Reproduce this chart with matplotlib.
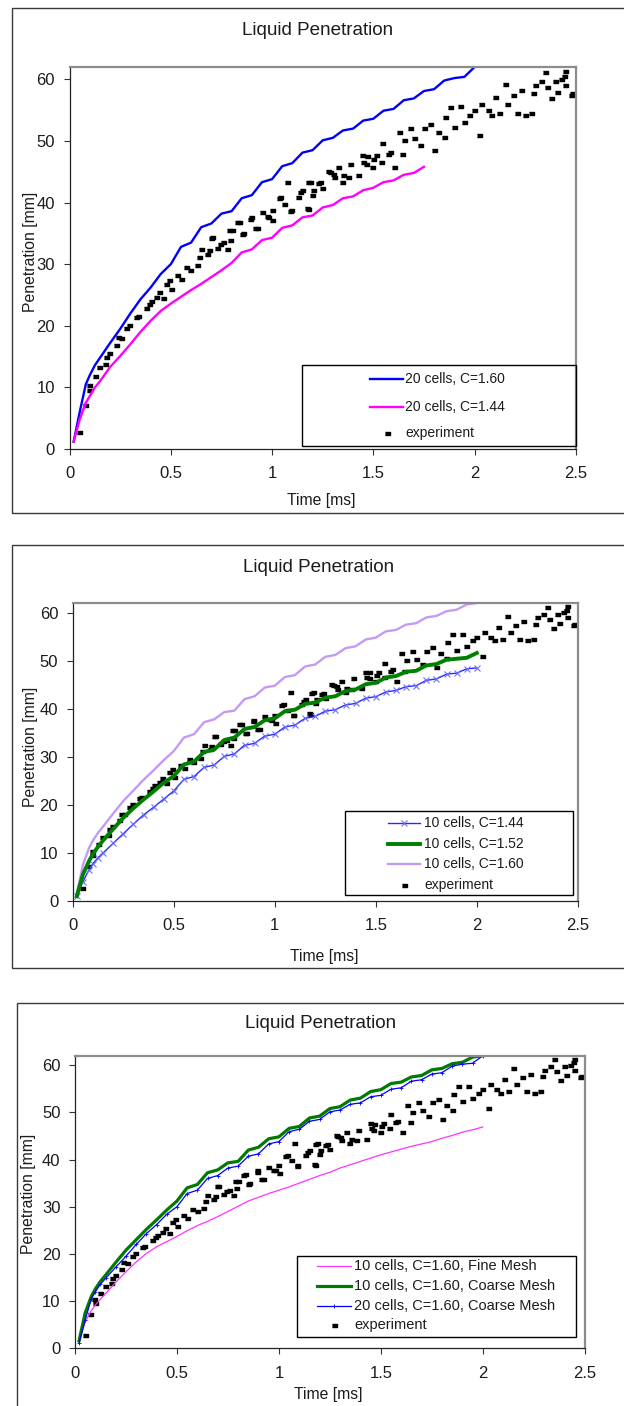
import matplotlib
matplotlib.use("Agg")
import matplotlib.pyplot as plt
from matplotlib.patches import Rectangle
from matplotlib.lines import Line2D

plt.rcParams['font.family'] = ['Liberation Sans', 'DejaVu Sans']

# measured spray tip penetration (time [ms], penetration [mm])
exp_t = [0.048, 0.076, 0.094, 0.097, 0.125, 0.147, 0.176, 0.180, 0.196, 0.228,
         0.237, 0.254, 0.279, 0.295, 0.328, 0.340, 0.377, 0.390, 0.402, 0.427,
         0.443, 0.459, 0.476, 0.491, 0.500, 0.531, 0.550, 0.575, 0.596, 0.629,
         0.639, 0.649, 0.678, 0.686, 0.698, 0.702, 0.727, 0.743, 0.757, 0.776,
         0.786, 0.792, 0.800, 0.825, 0.835, 0.850, 0.855, 0.891, 0.894, 0.914,
         0.924, 0.949, 0.973, 0.982, 0.998, 1.002, 1.032, 1.039, 1.061, 1.075,
         1.088, 1.091, 1.130, 1.138, 1.150, 1.170, 1.175, 1.179, 1.189, 1.199,
         1.204, 1.228, 1.237, 1.248, 1.278, 1.287, 1.302, 1.307, 1.327, 1.346,
         1.352, 1.376, 1.386, 1.425, 1.445, 1.450, 1.464, 1.467, 1.494, 1.500,
         1.513, 1.539, 1.543, 1.572, 1.580, 1.602, 1.627, 1.641, 1.651, 1.680,
         1.700, 1.730, 1.749, 1.779, 1.798, 1.818, 1.847, 1.853, 1.877, 1.897,
         1.926, 1.946, 1.975, 1.995, 2.024, 2.034, 2.064, 2.083, 2.103, 2.123,
         2.148, 2.162, 2.191, 2.211, 2.231, 2.250, 2.280, 2.290, 2.300, 2.329,
         2.349, 2.358, 2.378, 2.398, 2.408, 2.428, 2.443, 2.447, 2.447, 2.477,
         2.482]
exp_y = [2.8, 7.2, 10.4, 9.5, 11.8, 13.3, 13.8, 14.9, 15.6, 16.8,
         18.2, 18.0, 19.6, 20.2, 21.4, 21.6, 22.9, 23.5, 24.1, 24.7,
         25.5, 24.5, 26.8, 27.4, 25.9, 28.2, 27.6, 29.5, 29.0, 29.8,
         31.2, 32.5, 31.7, 32.3, 34.3, 34.4, 32.6, 33.3, 33.6, 32.5,
         35.5, 33.9, 35.5, 36.8, 36.9, 34.9, 35.0, 37.4, 37.7, 35.8,
         35.8, 38.5, 37.8, 37.7, 38.8, 37.1, 40.7, 40.9, 39.8, 43.4,
         38.7, 38.8, 40.9, 41.7, 42.0, 39.1, 38.9, 43.3, 43.4, 41.2,
         42.0, 43.1, 43.3, 42.3, 45.2, 45.0, 44.7, 44.2, 45.8, 43.4,
         44.4, 44.2, 46.3, 44.4, 47.7, 46.6, 46.3, 47.6, 45.8, 47.1,
         47.7, 46.6, 49.6, 47.9, 48.2, 45.8, 51.5, 47.9, 50.1, 52.1,
         50.4, 49.3, 52.1, 52.8, 48.6, 51.5, 50.6, 53.9, 55.5, 52.3,
         55.6, 53.1, 54.2, 55.0, 50.9, 56.0, 55.0, 54.2, 57.1, 54.5,
         59.3, 56.0, 57.4, 54.5, 58.2, 54.2, 54.5, 57.7, 59.0, 59.8,
         61.2, 58.7, 56.9, 59.8, 57.9, 60.1, 60.6, 59.0, 61.4, 57.4,
         57.7]

# simulation output times [ms]
t_sim = [0.02, 0.05, 0.08, 0.10, 0.125, 0.15, 0.20, 0.25, 0.30, 0.35,
         0.40, 0.45, 0.50, 0.55, 0.60, 0.65, 0.70, 0.75, 0.80, 0.85,
         0.90, 0.95, 1.00, 1.05, 1.10, 1.15, 1.20, 1.25, 1.30, 1.35,
         1.40, 1.45, 1.50, 1.55, 1.60, 1.65, 1.70, 1.75, 1.80, 1.85,
         1.90, 1.95, 2.00]

pen_20c_160 = [1.2, 6.0, 10.5, 12.0, 13.6, 14.8, 17.2, 19.5, 22.0, 24.3,
               26.2, 28.4, 30.0, 32.8, 33.5, 36.0, 36.6, 38.2, 38.6, 40.7,
               41.2, 43.3, 43.8, 45.9, 46.4, 48.1, 48.5, 50.1, 50.5, 51.7,
               52.0, 53.3, 53.6, 54.9, 55.2, 56.6, 56.9, 58.1, 58.4, 59.8,
               60.2, 60.4, 62.0]
pen_20c_144 = [1.2, 4.8, 7.5, 8.6, 10.0, 11.0, 13.3, 15.1, 17.0, 19.0,
               20.8, 22.4, 23.6, 24.7, 25.8, 26.8, 27.9, 29.0, 30.2, 31.9,
               32.4, 33.9, 34.3, 35.9, 36.3, 37.6, 37.9, 39.2, 39.6, 40.7,
               41.0, 42.0, 42.4, 43.3, 43.6, 44.5, 44.8, 45.8]
pen_10c_144 = [1.0, 4.0, 6.5, 7.8, 9.0, 10.0, 12.0, 14.0, 16.0, 17.9,
               19.5, 21.2, 22.9, 25.3, 25.9, 27.8, 28.3, 30.1, 30.6, 32.4,
               32.8, 34.3, 34.7, 36.2, 36.6, 38.0, 38.4, 39.5, 39.8, 40.8,
               41.1, 42.2, 42.5, 43.5, 43.8, 44.6, 44.8, 45.9, 46.2, 47.2,
               47.4, 48.3, 48.5]
pen_10c_152 = [1.0, 5.5, 8.3, 9.8, 11.3, 12.6, 15.0, 17.3, 19.3, 21.1,
               22.8, 24.6, 26.0, 28.4, 29.0, 31.0, 31.5, 33.5, 34.0, 35.8,
               36.2, 37.6, 38.0, 39.5, 39.8, 41.0, 41.3, 42.3, 42.6, 43.7,
               44.0, 45.1, 45.4, 46.5, 46.8, 47.7, 47.9, 49.0, 49.3, 50.2,
               50.4, 50.6, 51.6]
pen_10c_160 = [1.6, 7.5, 11.0, 12.6, 14.2, 15.5, 18.2, 20.8, 23.0, 25.2,
               27.2, 29.3, 31.2, 34.0, 34.7, 37.2, 37.8, 39.3, 39.6, 42.0,
               42.6, 44.4, 44.8, 46.6, 47.0, 48.8, 49.2, 50.8, 51.2, 52.6,
               53.0, 54.4, 54.8, 56.1, 56.4, 57.5, 57.8, 59.0, 59.3, 60.3,
               60.6, 61.7, 62.0]
pen_10c_160_fine = [1.4, 5.6, 8.0, 9.2, 10.4, 11.6, 14.0, 16.2, 18.3, 20.1,
                    21.5, 22.6, 23.7, 24.9, 26.0, 26.9, 27.9, 29.0, 30.1, 31.2,
                    32.0, 32.8, 33.5, 34.2, 35.0, 35.8, 36.6, 37.3, 38.2, 38.9,
                    39.6, 40.3, 41.0, 41.6, 42.2, 42.8, 43.3, 43.8, 44.5, 45.1,
                    45.8, 46.3, 46.9]

x_ticks = [0, 0.5, 1, 1.5, 2, 2.5]
x_ticklabels = ['0', '0.5', '1', '1.5', '2', '2.5']
y_ticks = [0, 10, 20, 30, 40, 50, 60]

W, H = 624, 1406
TXT = '#1c1c1c'
fig = plt.figure(figsize=(W / 100, H / 100), dpi=100)

# small wide rectangle, like the spreadsheet marker
EXP_MARK = [(-1, -0.6), (1, -0.6), (1, 0.6), (-1, 0.6)]
exp_style = dict(ls='none', marker=EXP_MARK, ms=3.6, color='black', mec='black')


def fx(x):
    return x / W


def fy(y):
    return 1 - y / H


def make_axes(left, top, right, bottom):
    ax = fig.add_axes([fx(left), fy(bottom), (right - left) / W, (bottom - top) / H])
    ax.set_xlim(0, 2.5)
    ax.set_ylim(0, 62)
    ax.set_xticks(x_ticks)
    ax.set_xticklabels(x_ticklabels)
    ax.set_yticks(y_ticks)
    ax.tick_params(direction='out', length=4.5, width=0.8, color='#333333',
                   labelsize=12, labelcolor=TXT)
    ax.tick_params(axis='x', pad=8)
    ax.tick_params(axis='y', pad=6)
    for s in ('left', 'bottom'):
        ax.spines[s].set_color('#222222')
        ax.spines[s].set_linewidth(0.9)
    for s in ('top', 'right'):
        ax.spines[s].set_color('#8c8c8c')
        ax.spines[s].set_linewidth(1.6)
    return ax


def panel_frame(left, top, bottom):
    fig.add_artist(Rectangle((fx(left), fy(bottom)), fx(640 - left), (bottom - top) / H,
                             transform=fig.transFigure, fill=False, ec='#3a3a3a', lw=1.0))


def labels(title_xy, xlab_xy, ylab_xy):
    fig.text(fx(title_xy[0]), fy(title_xy[1]), 'Liquid Penetration', ha='center', va='center',
             fontsize=13.6, color=TXT)
    fig.text(fx(xlab_xy[0]), fy(xlab_xy[1]), 'Time [ms]', ha='center', va='center',
             fontsize=11.3, color=TXT)
    fig.text(fx(ylab_xy[0]), fy(ylab_xy[1]), 'Penetration [mm]', ha='center', va='center',
             rotation=90, fontsize=11.3, color=TXT)


def legend(entries, box, hx, tx, rows, fs):
    l, t, r, b = box
    fig.add_artist(Rectangle((fx(l), fy(b)), (r - l) / W, (b - t) / H,
                             transform=fig.transFigure, fill=False, ec='black', lw=1.0))
    for (label, style), y in zip(entries, rows):
        if style is exp_style:
            fig.add_artist(Line2D([fx((hx[0] + hx[1]) / 2)], [fy(y)], transform=fig.transFigure,
                                  **style))
        else:
            st = dict(style)
            if 'marker' in st:
                st['markevery'] = [1]
            fig.add_artist(Line2D([fx(hx[0]), fx((hx[0] + hx[1]) / 2), fx(hx[1])], [fy(y)] * 3,
                                  transform=fig.transFigure, **st))
        fig.text(fx(tx), fy(y), label, ha='left', va='center', fontsize=fs, color=TXT)


# --- panel 1: 20 cells, two spray constants ---
panel_frame(12, 8, 513)
ax1 = make_axes(69.6, 67, 575.8, 449)
s_blue = dict(color='#0000ff', lw=1.7)
s_mag = dict(color='#ff00ff', lw=1.7)
ax1.plot(exp_t, exp_y, **exp_style, clip_on=False)
ax1.plot(t_sim, pen_20c_160, **s_blue)
ax1.plot(t_sim[:len(pen_20c_144)], pen_20c_144, **s_mag)
labels((318, 30.5), (321, 501), (30, 252))
legend([('20 cells, C=1.60', s_blue), ('20 cells, C=1.44', s_mag), ('experiment', exp_style)],
       (302, 365, 576, 446), (370, 403), 405, (379, 406.5, 433), 10)

# --- panel 2: 10 cells, three spray constants ---
panel_frame(12, 545, 968)
ax2 = make_axes(72.8, 603, 577.8, 901)
s_x = dict(color='#2a2aff', lw=1.0, marker='x', ms=5, mec='#6f6fff', mew=0.8)
s_green = dict(color='#008000', lw=2.8)
s_lav = dict(color='#c59af5', lw=1.7)
ax2.plot(exp_t, exp_y, **exp_style, clip_on=False)
ax2.plot(t_sim, pen_10c_160, **s_lav)
ax2.plot(t_sim, pen_10c_144, **s_x)
ax2.plot(t_sim, pen_10c_152, **s_green)
labels((319, 568), (324.5, 957), (31, 747))
legend([('10 cells, C=1.44', s_x), ('10 cells, C=1.52', s_green), ('10 cells, C=1.60', s_lav),
        ('experiment', exp_style)],
       (345, 811, 573, 895), (388, 420), 424, (823, 843.5, 864, 885), 10)

# --- panel 3: fine vs coarse mesh ---
panel_frame(16.7, 1003, 1450)
ax3 = make_axes(75, 1055.7, 584.7, 1348.3)
s_fine = dict(color='#ff33ff', lw=0.9)
s_coarse10 = dict(color='#007a00', lw=2.3)
s_coarse20 = dict(color='#0000ff', lw=0.9, marker='+', ms=2.5, mew=0.6)
ax3.plot(exp_t, exp_y, **exp_style, clip_on=False)
ax3.plot(t_sim, pen_10c_160_fine, **s_fine)
ax3.plot(t_sim, pen_10c_160, **s_coarse10)
ax3.plot(t_sim, pen_20c_160, **s_coarse20)
labels((321, 1023), (328, 1394), (28.7, 1194))
legend([('10 cells, C=1.60, Fine Mesh', s_fine), ('10 cells, C=1.60, Coarse Mesh', s_coarse10),
        ('20 cells, C=1.60, Coarse Mesh', s_coarse20), ('experiment', exp_style)],
       (296.5, 1256, 576.2, 1337.3), (317, 351), 354, (1266, 1285.5, 1305.5, 1324.5), 10.5)

fig.savefig('out.png', dpi=100, facecolor='white')
